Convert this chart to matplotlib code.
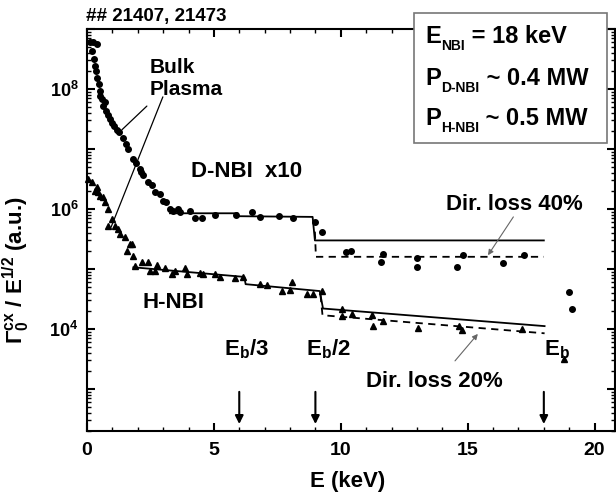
import numpy as np
import matplotlib
matplotlib.use('Agg')
import matplotlib.pyplot as plt
from matplotlib.patches import Rectangle
from matplotlib.ticker import LogLocator, MultipleLocator, FuncFormatter, NullFormatter

plt.rcParams['font.family'] = ['Liberation Sans', 'DejaVu Sans']
plt.rcParams['font.weight'] = 'bold'
plt.rcParams['axes.labelweight'] = 'bold'
plt.rcParams['mathtext.default'] = 'regular'

# ---- data: D-NBI (x10), circles ----
d_x = [0.12, 0.24, 0.39, 0.20, 0.28, 0.31, 0.35, 0.39, 0.47, 0.51, 0.51, 0.59, 0.63, 0.71,
       0.75, 0.83, 0.91, 0.98, 1.06, 1.18, 1.26, 1.42, 1.54, 1.61, 1.81, 1.93, 2.09, 2.13,
       2.20, 2.40, 2.56, 2.68, 2.87, 2.99, 3.11, 3.27, 3.39, 3.58, 3.66, 4.06, 4.25, 4.53,
       5.04, 5.87, 6.50, 6.81, 7.56, 8.10, 8.98, 9.25, 10.2, 10.4, 11.65, 11.57, 13.0,
       12.99, 14.57, 14.8, 16.4, 17.2, 19.0, 19.1]
d_y = [6.0e8, 6.0e8, 5.6e8, 4.3e8, 3.2e8, 2.4e8, 2.0e8, 1.5e8, 1.2e8, 9.3e7, 7.6e7, 6.8e7,
       5.2e7, 6.0e7, 4.3e7, 3.7e7, 3.2e7, 2.7e7, 2.4e7, 2.1e7, 1.9e7, 1.5e7, 1.2e7, 1.0e7,
       6.8e6, 5.9e6, 4.7e6, 4.2e6, 3.7e6, 2.8e6, 2.5e6, 1.9e6, 1.8e6, 1.35e6, 1.3e6, 1.0e6,
       9.3e5, 1.0e6, 8.9e5, 9.3e5, 7.1e5, 7.1e5, 7.9e5, 7.9e5, 8.9e5, 7.4e5, 7.6e5, 7.1e5,
       6.0e5, 4.2e5, 1.9e5, 2.0e5, 1.8e5, 1.3e5, 1.5e5, 1.1e5, 1.07e5, 1.7e5, 1.26e5, 1.7e5,
       4.2e4, 2.2e4]

# ---- data: H-NBI, triangles ----
h_x = [0.04, 0.20, 0.31, 0.39, 0.43, 0.51, 0.63, 0.71, 0.83, 0.98, 1.10, 0.83, 1.22, 1.30,
       1.50, 1.69, 1.77, 1.57, 1.81, 1.89, 2.17, 2.40, 2.48, 2.68, 2.76, 3.07, 3.35, 3.46,
       3.86, 3.94, 4.45, 4.57, 5.04, 5.24, 5.83, 6.14, 6.81, 7.09, 7.68, 7.99, 8.07, 8.66,
       8.90, 9.25, 10.04, 10.04, 10.43, 11.22, 11.26, 11.65, 13.03, 14.65, 14.76, 17.13,
       18.78]
h_y = [3.2e6, 2.8e6, 2.0e6, 2.3e6, 1.9e6, 1.66e6, 1.6e6, 1.3e6, 1.0e6, 6.8e5, 5.2e5, 5.2e5,
       4.7e5, 3.8e5, 3.4e5, 2.6e5, 2.6e5, 2.0e5, 1.66e5, 1.12e5, 1.3e5, 1.3e5, 9.3e4, 9.3e4,
       1.17e5, 1.05e5, 8.3e4, 9.3e4, 1.05e5, 8.3e4, 8.5e4, 8.3e4, 8.3e4, 7.4e4, 7.1e4, 7.4e4,
       5.6e4, 5.4e4, 4.3e4, 4.5e4, 6.0e4, 3.8e4, 3.8e4, 4.3e4, 2.2e4, 1.66e4, 1.8e4, 1.7e4,
       1.12e4, 1.35e4, 1.05e4, 1.12e4, 9.5e3, 1.0e4, 3.2e3]

# ---- model curves ----
d_fit_x = [3.27, 5.94, 5.94, 8.89, 8.98, 18.0]
d_fit_y = [8.5e5, 8.5e5, 7.6e5, 7.4e5, 3.0e5, 3.0e5]
d_loss_x = [8.98, 9.02, 18.0]
d_loss_y = [4.2e5, 1.6e5, 1.6e5]
h_fit_x = [1.83, 6.2, 6.25, 9.17, 9.3, 18.03]
h_fit_y = [1.07e5, 7.4e4, 5.6e4, 4.3e4, 2.2e4, 1.12e4]
h_loss_x = [9.2, 9.28, 18.03]
h_loss_y = [3.7e4, 1.7e4, 8.5e3]

# ---- beam energy fractions ----
arrow_x = [6.0, 9.0, 18.0]
arrow_labels = [r'E$_b$/3', r'E$_b$/2', r'E$_b$']
arrow_label_x = [6.3, 9.5, 18.5]

fig = plt.figure(figsize=(6.16, 4.96), dpi=100)
ax = fig.add_axes([0.1412, 0.131, 0.857, 0.8105])
ax.set_yscale('log')
ax.set_xlim(0, 20.8)
ax.set_ylim(200, 1e9)

ax.plot(d_fit_x, d_fit_y, color='black', lw=1.3, zorder=3)
ax.plot(d_loss_x, d_loss_y, color='black', lw=1.3, ls=(0, (4, 3)), zorder=3)
ax.plot(h_fit_x, h_fit_y, color='black', lw=1.3, zorder=3)
ax.plot(h_loss_x, h_loss_y, color='black', lw=1.3, ls=(0, (4, 3)), zorder=3)
ax.plot(d_x, d_y, 'o', color='black', ms=4, mec='black', zorder=4, clip_on=False)
ax.plot(h_x, h_y, '^', color='black', ms=4.5, mec='black', zorder=4, clip_on=False)

# axes styling
for sp in ax.spines.values():
    sp.set_linewidth(1.5)
ax.xaxis.set_major_locator(MultipleLocator(5))
ax.xaxis.set_minor_locator(MultipleLocator(1))
ax.yaxis.set_major_locator(LogLocator(base=10, numticks=20))
ax.yaxis.set_minor_locator(LogLocator(base=10, subs=np.arange(2, 10), numticks=20))
ax.yaxis.set_minor_formatter(NullFormatter())

def yfmt(v, pos):
    e = int(round(np.log10(v)))
    return r'$10^{%d}$' % e if e in (4, 6, 8) else ''

ax.yaxis.set_major_formatter(FuncFormatter(yfmt))
ax.tick_params(which='both', direction='in', top=True, right=True)
ax.tick_params(which='major', length=6, width=1.5)
ax.tick_params(which='minor', length=3, width=1)
ax.tick_params(axis='x', labelsize=14, pad=8)
ax.tick_params(axis='y', labelsize=13, pad=6)
for t in ax.get_xticklabels() + ax.get_yticklabels():
    t.set_fontweight('bold')

ax.set_xlabel('E (keV)', fontsize=16, fontweight='bold')
ax.xaxis.set_label_coords(0.494, -0.10)
ax.set_ylabel(r'$\Gamma_0^{cx}$ / E$^{1/2}$ (a.u.)', fontsize=16, fontweight='bold')
ax.yaxis.set_label_coords(-0.105, 0.40)

# arrows at beam energy fractions
for xa, lab, xl in zip(arrow_x, arrow_labels, arrow_label_x):
    ax.annotate('', xy=(xa, 235), xytext=(xa, 1000),
                arrowprops=dict(arrowstyle='-|>', color='black', lw=1.5, mutation_scale=12))
    ax.text(xl, 4.6e3, lab, ha='center', va='center', fontsize=16)

# text annotations
ax.text(2.48, 1.5e8, 'Bulk\nPlasma', ha='left', va='center', fontsize=15, linespacing=1.2)
ax.annotate('', xy=(1.38, 2.1e7), xytext=(2.36, 5.2e7),
            arrowprops=dict(arrowstyle='-', color='black', lw=0.9, shrinkA=0, shrinkB=0))
ax.annotate('', xy=(0.95, 5.0e5), xytext=(2.99, 7.4e7),
            arrowprops=dict(arrowstyle='-', color='black', lw=0.9, shrinkA=0, shrinkB=0))
ax.text(6.3, 4.2e6, 'D-NBI  x10', ha='center', va='center', fontsize=16)
ax.text(3.39, 2.8e4, 'H-NBI', ha='center', va='center', fontsize=16)
ax.text(16.85, 1.2e6, 'Dir. loss 40%', ha='center', va='center', fontsize=16)
ax.annotate('', xy=(15.8, 1.7e5), xytext=(16.8, 7.4e5),
            arrowprops=dict(arrowstyle='-|>', color='#666666', lw=0.8, mutation_scale=8,
                            shrinkA=0, shrinkB=0))
ax.text(13.7, 1.35e3, 'Dir. loss 20%', ha='center', va='center', fontsize=16)
ax.annotate('', xy=(15.4, 8.3e3), xytext=(14.5, 2.95e3),
            arrowprops=dict(arrowstyle='-|>', color='#666666', lw=0.8, mutation_scale=8,
                            shrinkA=0, shrinkB=0))

# shot numbers
fig.text(0.14, 0.966, '## 21407, 21473', ha='left', va='center', fontsize=13.5)

# parameter box
ax.add_patch(Rectangle((414 / 616, 1 - 143 / 496), 193 / 616, 130 / 496,
                       transform=fig.transFigure, facecolor='white', edgecolor='#777777',
                       lw=1.2, clip_on=False, zorder=5))

box_main = ['E', 'P', 'P']
box_sub = ['NBI', 'D-NBI', 'H-NBI']
box_rest = [' = 18 keV', ' ~ 0.4 MW', ' ~ 0.5 MW']
base_px = [43, 85, 125]
for m, s, r, bp in zip(box_main, box_sub, box_rest, base_px):
    yb = 1 - bp / 496
    t1 = ax.text(425 / 616, yb, m, transform=fig.transFigure, fontsize=17,
                 va='baseline', ha='left', zorder=6)
    t2 = ax.annotate(s, xy=(1, yb - 3 / 496), xycoords=(t1, 'figure fraction'),
                     xytext=(0.5, 0), textcoords='offset points',
                     fontsize=10, va='center', ha='left', zorder=6)
    ax.annotate(r, xy=(1, yb), xycoords=(t2, 'figure fraction'),
                fontsize=17, va='baseline', ha='left', zorder=6)

fig.savefig('out.png', dpi=100)
